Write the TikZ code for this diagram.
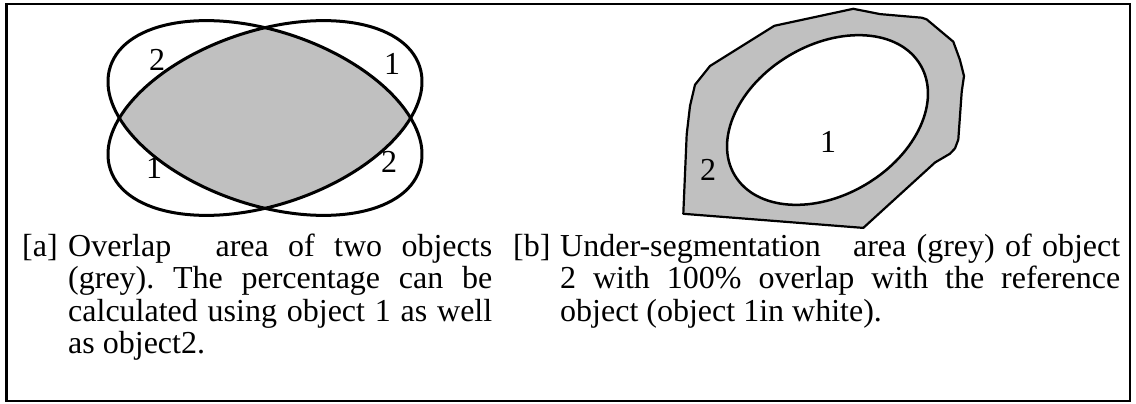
\documentclass[tikz,border=0pt]{standalone}
\usepackage{fontspec}
\setmainfont{Liberation Serif}
\definecolor{fillgrey}{RGB}{192,192,192}
\begin{document}
\frenchspacing
\begin{tikzpicture}[x=1pt,y=-1pt,
  txt/.style={inner sep=0pt, anchor=base west, font=\fontsize{32}{34}\selectfont},
  lbl/.style={inner sep=0pt, font=\fontsize{32}{34}\selectfont},
  outline/.style={draw=black, line width=3pt},
  thinout/.style={draw=black, line width=2.2pt, line join=round}]
\useasboundingbox (0,0) rectangle (1136,404);
% frame
\draw[line width=2.7pt] (6.5,4) rectangle (1130,401);

% ---- left: two overlapping ellipses
\begin{scope}
  \clip[rotate around={18.5:(265,118)}] (265,118) ellipse [x radius=163, y radius=87];
  \fill[fillgrey, rotate around={-18.5:(265,118)}] (265,118) ellipse [x radius=163, y radius=87];
\end{scope}
\draw[outline, rotate around={18.5:(265,118)}] (265,118) ellipse [x radius=163, y radius=87];
\draw[outline, rotate around={-18.5:(265,118)}] (265,118) ellipse [x radius=163, y radius=87];
\node[lbl] (l2a) at (157,60) {2};
\node[lbl] (l1a) at (392,64) {1};
\node[lbl] (l1b) at (154,168) {1};
\node[lbl] (l2b) at (389,162) {2};

% ---- right: under-segmentation
\filldraw[fill=fillgrey, thinout] (683.3,213.8) -- (686.7,134.3) -- (690,106) -- (695,84.8)
  -- (710,66) -- (774.3,25.8) -- (853.3,8.8) -- (880,14.1) -- (921.7,17.7)
  -- (926.7,19.4) -- (953.3,41.7) -- (960,60.1) -- (964,76) -- (961.7,91.9)
  -- (958.3,139.6) -- (955,148.4) -- (950,153.7) -- (935,162.5) -- (863.3,227.9) -- cycle;
\filldraw[fill=white, draw=black, line width=2.5pt, rotate around={30.7:(827.5,120)}]
  (827.5,120) ellipse [x radius=108, y radius=75];
\node[lbl] (r1) at (828,142) {1};
\node[lbl] (r2) at (708,170) {2};

% ---- captions
\node[txt] (ca0) at (22,256) {[a]};
\node[txt] (ca1) at (68,256) {\makebox[424pt][s]{Overlap\hspace{25pt} area of two objects}};
\node[txt] (ca2) at (68,288.5) {\makebox[424pt][s]{(grey). The percentage can be}};
\node[txt] (ca3) at (68,321) {\makebox[424pt][s]{calculated using object 1 as well}};
\node[txt] (ca4) at (68,353.5) {as object2.};

\node[txt] (cb0) at (513,256) {[b]};
\node[txt] (cb1) at (560,256) {\makebox[560pt][s]{Under-segmentation\hspace{22pt} area (grey) of object}};
\node[txt] (cb2) at (560,288.5) {\makebox[560pt][s]{2 with 100\% overlap with the reference}};
\node[txt] (cb3) at (560,321) {object (object 1in white).};
\end{tikzpicture}
\end{document}
